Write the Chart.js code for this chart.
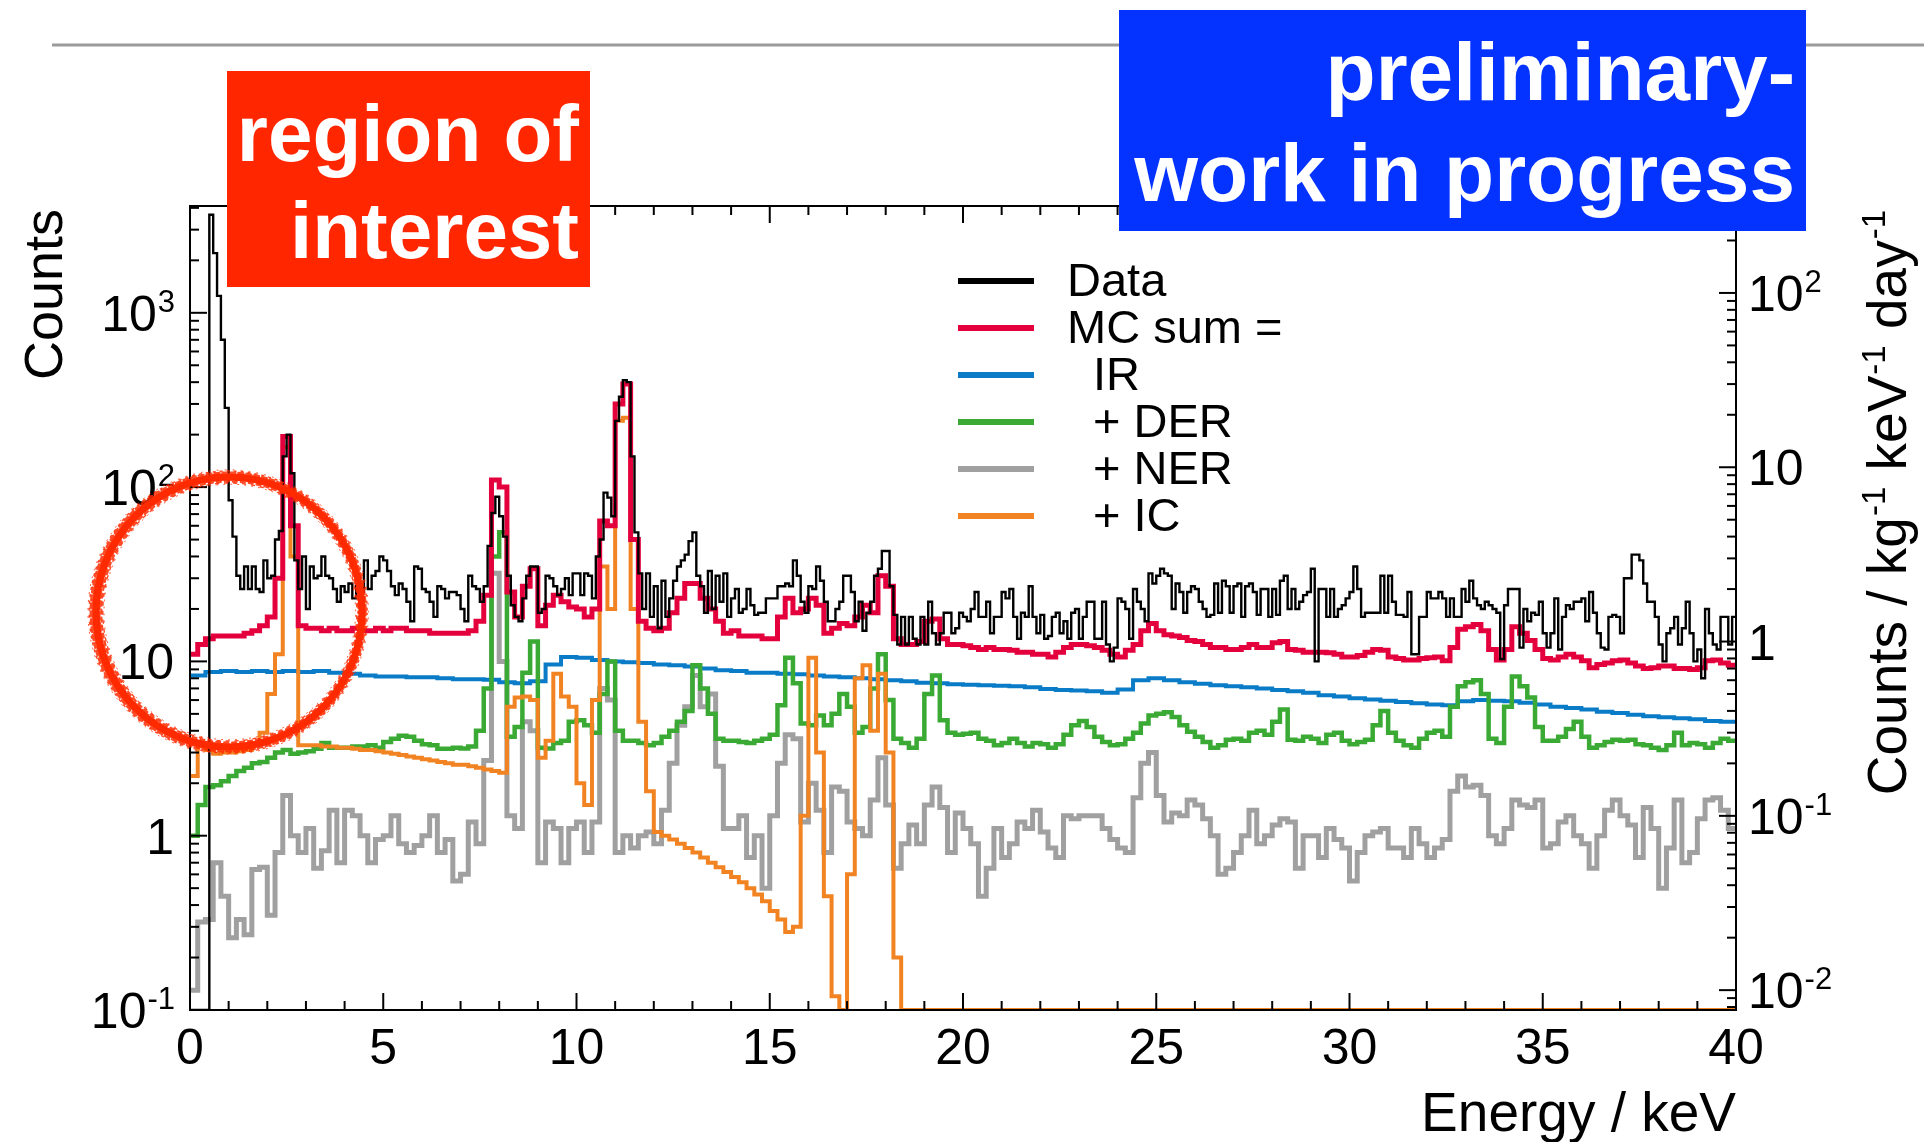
<!DOCTYPE html>
<html>
<head>
<meta charset="utf-8">
<title>Energy spectrum</title>
<script src="https://cdn.jsdelivr.net/npm/chart.js@4/dist/chart.umd.min.js"></script>
<style>
  html, body { margin: 0; padding: 0; background: #fff; }
  canvas { display: block; }
</style>
</head>
<body>
<canvas id="spectrum" width="1924" height="1142"></canvas>
<script>
// ---------------------------------------------------------------------------
// Spectrum values (counts per bin). Measured data uses 0.1 keV bins,
// the simulated components 0.2 keV bins, the smooth IR component 0.4 keV bins.
// ---------------------------------------------------------------------------
const dataBinWidth = 0.1;
const mcBinWidth = 0.2;
const irBinWidth = 0.4;

const dataCounts = [
  0,0,0,0,0,3650,2200,1250,700,285,
  84,52,31,26,35,26,35,26,25,38,
  30,31,50,56,150,200,120,38,26,40,
  20,35,30,31,40,31,30,26,22,27,
  25,28,23,27,25,38,26,31,33,40,
  38,33,27,24,28,26,22,17,35,34,
  26,25,22,18,27,26,23,25,25,24,
  20,17,31,27,26,22,27,46,71,88,
  68,52,31,21,18,17,23,31,35,35,
  19,20,31,30,27,24,26,30,24,32,
  32,24,32,31,23,40,50,93,87,68,
  240,330,410,400,150,55,32,20,32,18,
  27,15.5,29,18,23,29,35,38,41,49,
  55,31,27,19,33,20,31,22,32,18,
  23,26,19,20,26,21,18.5,19,19,23,
  23,23,27,27,28,27,38,31,22,19,
  27,26,35,29,22,17,17,20,22,31,
  31,25,17,22,15,19,22,31,34,43,
  43,27,18.5,12.5,18,12.5,18,13.5,12.5,18,
  12.5,22,14.5,12.5,14.5,19,19,14.5,15.5,19,
  18,17,20,25,18,18,22,14.5,18,18,
  25,23,26,18,13.5,19,18,27,18,14.5,
  18.5,13.5,14,18,19,14.5,17,13.5,19,20,
  13.5,18,22,22,13.5,13.5,22,12.5,10,12,
  23,22,20,13.5,26,22,20,17,32,28,
  31,34,32,31,20,28,25,19,25,27,
  26,22,20,18,18.5,28,19,29,27,19,
  27,28,18,27,28,25,18.5,26,26,18,
  26,18.5,29,31,20,26,20,22,24,25,
  34,10,26,26,18,26,18,20,21,23,
  25,35,26,18,19,19,19,19,31,19,
  31,22,18.5,18.5,18,25,11,11,18,18,
  25,23,23,25,23,18,23,18,18,26,
  22,29,23,21,20,22,21,20,19,10.3,
  21,26,26,26,12,20,17,19,18.5,22,
  14.5,12,14.5,23,11.7,18,21,20,22,22,
  23,17,25,19,14.5,12,11.7,18,18.5,18,
  14.5,30,30,41,41,38,28,22,22,18,
  12.5,10,14.5,15.5,18,12.5,15.5,22,14.5,10,
  11.7,8,20,14.5,12.5,11.7,18,18,12.5,18
];

const mcSumCounts = [
  11,12.5,13.5,14,14,14,14,14.5,15,16,
  18,30,195,60,16,15.5,15.5,15,15.5,15,
  15,15.5,15,15,15.5,15,15.5,15.5,15,15,
  15,14.5,14.5,14.5,14.5,14.5,15,17,24,110,
  100,25,18,27,34,16,21,24,22,20.5,
  20,18,20,64,60,300,390,50,17,15.5,
  15,15.5,19,23,28,28,23,20,17,14.5,
  15,14,14,14,13.5,13.5,18,23,19,20,
  23,21,14.5,15.5,16.5,16,18,21,19,31,
  27,13.5,12.5,12.5,13,17,17.5,13.5,12.5,12.5,
  12.3,12,11.7,12,11.7,11.7,11.6,11.3,11.3,11,
  11,10.6,11.3,12,12.5,12.5,12.3,12,11.6,11,
  10.6,11.6,12.5,15,16.5,15,14.2,14,13.7,13.2,
  13,12.5,12,12,11.7,11.7,12,12.5,12,12,
  12.8,13,11.7,11.6,11.3,11.3,11.3,11.2,11,10.6,
  10.6,10.8,11.3,11.7,11.6,10.6,10.4,10.2,10.2,10.4,
  10.5,10.6,10.1,12,15.3,15.8,16.3,15,11.7,10.2,
  11.7,15.8,14.5,13.2,11.7,10.4,10.2,10.6,11,10.6,
  10.1,9.2,9.6,9.8,10.1,10.2,9.8,9.4,9.1,9.2,
  9.4,9.4,9.1,9.1,9,9.2,10.1,10.2,9.8,9.5
];

const irCounts = [
  8.3,8.7,8.8,8.7,8.8,8.7,8.8,8.7,8.8,8.6,
  8.5,8.3,8.2,8.2,8.1,8.1,8.0,7.9,7.9,7.85,
  7.6,7.5,7.7,9.6,10.6,10.5,10.2,10.0,9.9,9.8,
  9.6,9.5,9.35,9.1,8.9,8.8,8.6,8.6,8.5,8.45,
  8.3,8.2,8.1,8.0,7.9,7.8,7.7,7.55,7.5,7.4,
  7.35,7.3,7.25,7.2,7.1,6.95,6.85,6.8,6.75,6.6,
  6.9,7.8,8.0,7.8,7.6,7.45,7.3,7.2,7.1,7.0,
  6.85,6.75,6.6,6.4,6.3,6.15,6.05,5.95,5.85,5.75,
  5.65,5.6,5.9,6.0,5.95,5.9,5.8,5.65,5.5,5.4,
  5.3,5.15,5.05,4.95,4.85,4.78,4.72,4.65,4.55,4.5
];

const derCounts = [
  1.0,1.5,1.9,1.95,2.05,2.2,2.35,2.45,2.6,2.65,
  2.8,3.0,3.1,2.95,3.0,3.05,3.15,3.4,3.2,3.2,
  3.2,3.25,3.25,3.3,3.2,3.45,3.6,3.75,3.7,3.5,
  3.35,3.3,3.15,3.15,3.2,3.16,3.25,4.0,7.0,40,
  55,3.7,4.2,8.6,13,3.2,3.16,3.4,3.5,4.5,
  4.6,4.3,3.9,6.5,10,4.0,3.5,3.5,3.4,3.3,
  3.4,3.7,4.0,4.5,5.2,9.5,7,5.0,3.6,3.5,
  3.5,3.45,3.4,3.5,3.6,3.8,5.6,10.5,7.5,4.4,
  4.3,4.9,4.3,5.0,6.5,5.5,3.9,4.2,7.0,11,
  6,3.6,3.4,3.2,3.6,6.5,8.3,4.6,3.9,3.8,
  3.85,3.9,3.6,3.5,3.3,3.4,3.6,3.4,3.25,3.4,
  3.35,3.2,3.35,3.8,4.3,4.55,4.2,3.7,3.45,3.3,
  3.35,3.6,3.9,4.4,4.9,5.0,5.1,4.8,4.3,3.95,
  3.7,3.45,3.2,3.3,3.55,3.6,3.5,3.9,4.0,3.8,
  4.5,5.3,3.55,3.5,3.7,3.6,3.4,3.8,3.9,3.5,
  3.35,3.45,3.55,4.3,5.2,3.9,3.5,3.3,3.2,3.6,
  3.9,4.0,3.7,5.5,7.2,7.6,7.8,6.5,3.6,3.4,
  5.5,8.2,7.2,6.2,4.2,3.5,3.5,3.7,4.1,4.5,
  3.7,3.2,3.3,3.45,3.55,3.5,3.55,3.35,3.3,3.2,
  3.1,3.3,3.9,3.3,3.4,3.35,3.2,3.4,3.6,3.5
];

const nerCounts = [
  0.13,0.32,0.33,0.7,0.45,0.26,0.33,0.27,0.64,0.66,
  0.35,0.8,1.7,1.0,0.8,1.1,0.65,0.82,1.4,0.7,
  1.4,1.3,1.0,0.7,0.95,1.0,1.3,0.9,0.8,0.88,
  1.0,1.3,0.8,0.95,0.55,0.6,1.2,0.9,2.7,32,
  10,1.3,1.1,4.5,4.0,0.7,1.2,1.1,0.7,1.1,
  1.2,0.8,1.2,7,6,0.8,1.0,0.85,1.0,1.05,
  0.9,1.4,2.6,4.3,5.5,8.3,5.5,6.5,2.5,1.1,
  1.1,1.3,0.75,1.0,0.5,1.3,2.6,3.8,3.6,1.2,
  2.0,1.4,0.8,1.9,1.8,1.2,1.1,1.0,1.6,2.8,
  1.5,0.65,0.9,1.15,0.9,1.5,1.9,1.45,0.8,1.35,
  1.1,0.9,0.45,0.65,1.1,0.75,0.9,1.2,1.1,1.4,
  1.05,0.85,0.75,1.3,1.25,1.3,1.3,1.3,1.1,0.95,
  0.85,0.8,1.65,2.6,3.0,1.7,1.2,1.35,1.3,1.6,
  1.5,1.25,1.0,0.6,0.65,0.8,1.0,1.4,0.9,1.0,
  1.15,1.25,1.2,0.65,1.0,1.0,0.75,1.1,0.95,0.85,
  0.55,0.8,1.0,1.05,1.1,0.85,0.85,0.75,1.1,0.9,
  0.75,0.85,0.95,1.8,2.2,1.9,1.95,1.7,1.0,0.9,
  1.1,1.6,1.5,1.45,1.6,0.85,0.9,1.2,1.3,1.0,
  0.9,0.65,1.0,1.4,1.6,1.3,1.15,0.75,1.45,1.1,
  0.5,0.85,1.6,0.7,0.8,1.25,1.6,1.65,1.4,1.1
];

const icCounts = [
  2.2,3.3,3.1,2.95,3.0,3.0,3.05,3.1,3.4,3.9,
  6.5,11,170,40,3.3,3.3,3.3,3.25,3.25,3.2,
  3.2,3.15,3.1,3.1,3.05,3.0,2.95,2.9,2.85,2.8,
  2.75,2.7,2.65,2.6,2.55,2.55,2.5,2.45,2.4,2.35,
  2.3,5.5,6.2,6.3,6.0,2.8,3.5,8.5,6.3,5.5,
  2.0,1.5,6,35,20,240,250,20,4.5,1.8,
  1.05,1.0,0.95,0.9,0.85,0.8,0.75,0.7,0.66,0.62,
  0.58,0.54,0.5,0.46,0.42,0.37,0.33,0.28,0.3,1.3,
  10.5,3,0.45,0.12,0,0.6,8,9.5,4,8.5,
  3,0.2,0,0,0,0,0,0,0,0,
  0,0,0,0,0,0,0,0,0,0,
  0,0,0,0,0,0,0,0,0,0,
  0,0,0,0,0,0,0,0,0,0,
  0,0,0,0,0,0,0,0,0,0,
  0,0,0,0,0,0,0,0,0,0,
  0,0,0,0,0,0,0,0,0,0,
  0,0,0,0,0,0,0,0,0,0,
  0,0,0,0,0,0,0,0,0,0,
  0,0,0,0,0,0,0,0,0,0,
  0,0,0,0,0,0,0,0,0,0
];

// Axis ticks and the conversion from counts to counts / kg / keV / day.
const energyTicks = [0, 5, 10, 15, 20, 25, 30, 35, 40];
const countTicks = [0.1, 1, 10, 100, 1000];
const rateTicks = [0.01, 0.1, 1, 10, 100];
const countsRange = [0.1, 4100];
const countsPerRateUnit = 13;

// ---------------------------------------------------------------------------
const FONT = '"Liberation Sans", Arial, Helvetica, sans-serif';

function histogramPoints(values, width) {
  const pts = values.map((v, i) => ({ x: Math.round(i * width * 1000) / 1000, y: v }));
  pts.push({ x: Math.round(values.length * width * 1000) / 1000, y: values[values.length - 1] });
  return pts;
}

function powerParts(v) {
  const e = Math.round(Math.log10(v));
  if (e === 0) return ['1', ''];
  if (e === 1) return ['10', ''];
  return ['10', String(e)];
}

function drawPower(ctx, base, exp, x, baseline, align) {
  ctx.font = '50px ' + FONT;
  const w1 = ctx.measureText(base).width;
  let w2 = 0;
  if (exp) { ctx.font = '31px ' + FONT; w2 = ctx.measureText(exp).width; }
  const x0 = align === 'right' ? x - w1 - w2 : x;
  ctx.textAlign = 'left';
  ctx.font = '50px ' + FONT;
  ctx.fillText(base, x0, baseline);
  if (exp) {
    ctx.font = '31px ' + FONT;
    ctx.fillText(exp, x0 + w1 + 1, baseline - 19);
  }
}

function line(ctx, x1, y1, x2, y2) {
  ctx.beginPath(); ctx.moveTo(x1, y1); ctx.lineTo(x2, y2); ctx.stroke();
}

// Frame with inward tick marks on all four sides.
const framePlugin = {
  id: 'frame',
  afterDatasetsDraw(chart) {
    const { ctx, chartArea: a, scales } = chart;
    const MAJOR = 17, MINOR = 9;
    ctx.save();
    ctx.strokeStyle = '#000';
    ctx.lineWidth = 2;
    ctx.lineCap = 'butt';
    ctx.strokeRect(a.left, a.top, a.right - a.left, a.bottom - a.top);
    for (let k = 0; k <= 40; k++) {
      const px = scales.x.getPixelForValue(k);
      const len = k % 5 === 0 ? MAJOR : MINOR;
      line(ctx, px, a.bottom, px, a.bottom - len);
      line(ctx, px, a.top, px, a.top + len);
    }
    const ySc = scales.y;
    for (let d = -2; d <= 4; d++) {
      for (let m = 1; m <= 9; m++) {
        const v = m * Math.pow(10, d);
        if (v < ySc.min * 0.999 || v > ySc.max * 1.001) continue;
        const py = ySc.getPixelForValue(v);
        line(ctx, a.left, py, a.left + (m === 1 ? MAJOR : MINOR), py);
      }
    }
    const rSc = scales.yRate;
    for (let d = -4; d <= 3; d++) {
      for (let m = 1; m <= 9; m++) {
        const v = m * Math.pow(10, d);
        if (v < rSc.min * 0.999 || v > rSc.max * 1.001) continue;
        const py = rSc.getPixelForValue(v);
        line(ctx, a.right, py, a.right - (m === 1 ? MAJOR : MINOR), py);
      }
    }
    ctx.restore();
  }
};

// Marker-pen ring: a solid core plus broken thin strokes for a rough edge.
function drawMarkerRing(ctx, cx, cy, rx, ry) {
  ctx.save();
  ctx.strokeStyle = '#ff2a00';
  ctx.lineCap = 'round';
  ctx.lineWidth = 7;
  ctx.beginPath();
  ctx.ellipse(cx, cy, rx, ry, 0, 0, Math.PI * 2);
  ctx.stroke();
  const edges = [
    [4.5, 2.2, [5, 3], 0],
    [-4.5, 2.2, [4, 4], 3],
    [6.0, 1.4, [2, 5], 1],
    [-6.0, 1.4, [3, 6], 4],
    [7.2, 1.0, [1, 7], 2],
    [-7.2, 1.0, [1, 6], 5],
    [2.5, 2.5, [9, 2], 6],
    [-2.5, 2.5, [8, 3], 2]
  ];
  edges.forEach(([dr, w, dash, off], i) => {
    ctx.globalAlpha = 0.85;
    ctx.lineWidth = w;
    ctx.setLineDash(dash);
    ctx.lineDashOffset = off;
    ctx.beginPath();
    ctx.ellipse(cx + (i % 2 ? 0.8 : -0.8), cy, rx + dr, ry + dr, (i % 3 - 1) * 0.01, 0, Math.PI * 2);
    ctx.stroke();
  });
  ctx.restore();
}

// Tick labels, axis titles, legend and slide annotations.
const decorPlugin = {
  id: 'decor',
  afterDraw(chart) {
    const { ctx, chartArea: a, scales } = chart;
    ctx.save();
    ctx.fillStyle = '#000';
    ctx.textBaseline = 'alphabetic';

    // energy tick labels
    ctx.font = '50px ' + FONT;
    ctx.textAlign = 'center';
    energyTicks.forEach(v => ctx.fillText(String(v), scales.x.getPixelForValue(v), 1064));

    // count tick labels (left) and rate tick labels (right)
    countTicks.forEach(v => {
      const [b, e] = powerParts(v);
      drawPower(ctx, b, e, a.left - 16, scales.y.getPixelForValue(v) + 18, 'right');
    });
    rateTicks.forEach(v => {
      const [b, e] = powerParts(v);
      drawPower(ctx, b, e, a.right + 12, scales.yRate.getPixelForValue(v) + 18, 'left');
    });

    // axis titles
    ctx.font = '55px ' + FONT;
    ctx.textAlign = 'right';
    ctx.fillText('Energy / keV', a.right, 1131);

    ctx.save();
    ctx.translate(62, a.top + 3);
    ctx.rotate(-Math.PI / 2);
    ctx.textAlign = 'right';
    ctx.font = '54px ' + FONT;
    ctx.fillText('Counts', 0, 0);
    ctx.restore();

    const rateTitle = [['Counts / kg', false], ['-1', true], [' keV', false], ['-1', true], [' day', false], ['-1', true]];
    ctx.save();
    ctx.translate(1906, a.top + 3);
    ctx.rotate(-Math.PI / 2);
    ctx.textAlign = 'left';
    let total = 0;
    rateTitle.forEach(([t, sup]) => { ctx.font = (sup ? '33px ' : '55px ') + FONT; total += ctx.measureText(t).width + (sup ? 2 : 0); });
    let cx = -total;
    rateTitle.forEach(([t, sup]) => {
      ctx.font = (sup ? '33px ' : '55px ') + FONT;
      ctx.fillText(t, cx + (sup ? 1 : 0), sup ? -21 : 0);
      cx += ctx.measureText(t).width + (sup ? 2 : 0);
    });
    ctx.restore();

    // legend
    const rows = [281, 328, 375, 422, 469, 516];
    const indent = [0, 0, 26, 26, 26, 26];
    chart.data.datasets.slice().sort((p, q) => p.legendOrder - q.legendOrder).forEach((ds, i) => {
      ctx.strokeStyle = ds.borderColor;
      ctx.lineWidth = 6;
      line(ctx, 958, rows[i], 1034, rows[i]);
      ctx.fillStyle = '#000';
      ctx.font = '47px ' + FONT;
      ctx.textAlign = 'left';
      ctx.fillText(ds.label, 1067 + indent[i], rows[i] + 15);
    });

    // horizontal slide rule
    ctx.fillStyle = '#9b9b9b';
    ctx.fillRect(52, 43.5, 1872, 3);

    // hand-drawn ring around the region of interest
    drawMarkerRing(ctx, 229, 612, 133, 135);

    // annotation boxes
    ctx.fillStyle = '#ff2600';
    ctx.fillRect(227, 71, 363, 216);
    ctx.fillStyle = '#0433ff';
    ctx.fillRect(1119, 10, 687, 221);

    ctx.fillStyle = '#fff';
    ctx.textAlign = 'right';
    ctx.font = 'bold 80px ' + FONT;
    ctx.fillText('region of', 579, 161);
    ctx.fillText('interest', 579, 258);
    ctx.font = 'bold 82px ' + FONT;
    ctx.fillText('preliminary-', 1795, 100);
    ctx.fillText('work in progress', 1795, 201);

    ctx.restore();
  }
};

const stepStyle = { stepped: true, fill: false, pointRadius: 0, parsing: false, normalized: true,
                    borderJoinStyle: 'miter', borderCapStyle: 'butt' };

// dataset index 0 is drawn on top
const datasets = [
  Object.assign({ label: 'Data', legendOrder: 0, data: histogramPoints(dataCounts, dataBinWidth),
                  borderColor: '#000000', borderWidth: 2.4 }, stepStyle),
  Object.assign({ label: 'MC sum =', legendOrder: 1, data: histogramPoints(mcSumCounts, mcBinWidth),
                  borderColor: '#e4003c', borderWidth: 5 }, stepStyle),
  Object.assign({ label: '+ IC', legendOrder: 5, data: histogramPoints(icCounts, mcBinWidth),
                  borderColor: '#f28322', borderWidth: 4 }, stepStyle),
  Object.assign({ label: '+ DER', legendOrder: 3, data: histogramPoints(derCounts, mcBinWidth),
                  borderColor: '#3aaa35', borderWidth: 4.5 }, stepStyle),
  Object.assign({ label: 'IR', legendOrder: 2, data: histogramPoints(irCounts, irBinWidth),
                  borderColor: '#0a7bc6', borderWidth: 4 }, stepStyle),
  Object.assign({ label: '+ NER', legendOrder: 4, data: histogramPoints(nerCounts, mcBinWidth),
                  borderColor: '#a0a0a0', borderWidth: 5 }, stepStyle)
];

new Chart(document.getElementById('spectrum'), {
  type: 'line',
  data: { datasets },
  options: {
    responsive: false,
    animation: false,
    devicePixelRatio: 1,
    events: [],
    layout: { padding: { left: 190, right: 188, top: 206, bottom: 132 }, autoPadding: false },
    plugins: { legend: { display: false }, tooltip: { enabled: false } },
    scales: {
      x: { type: 'linear', min: 0, max: 40, display: false },
      y: { type: 'logarithmic', min: countsRange[0], max: countsRange[1], display: false },
      yRate: { type: 'logarithmic', position: 'right',
               min: countsRange[0] / countsPerRateUnit, max: countsRange[1] / countsPerRateUnit, display: false }
    }
  },
  plugins: [framePlugin, decorPlugin]
});
</script>
</body>
</html>
